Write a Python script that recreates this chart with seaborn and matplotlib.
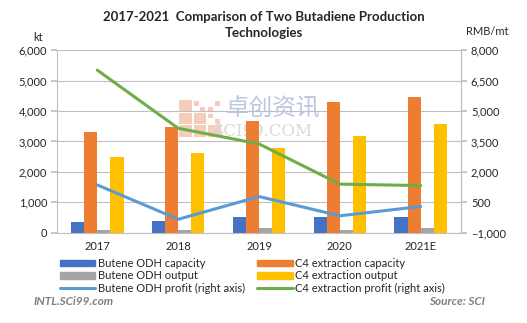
import matplotlib
matplotlib.use("Agg")
import matplotlib.pyplot as plt
import matplotlib.ticker as mticker
from matplotlib.lines import Line2D
from matplotlib.patches import Patch, Rectangle
import seaborn as sns
import pandas as pd

years = ["2017", "2018", "2019", "2020", "2021E"]
odh_capacity = [370, 375, 535, 535, 535]
odh_output = [100, 100, 175, 100, 175]
c4_capacity = [3320, 3490, 3680, 4305, 4470]
c4_output = [2500, 2630, 2800, 3180, 3585]
odh_profit = [1360, -330, 790, -160, 300]
c4_profit = [7010, 4150, 3380, 1400, 1330]

left_ticks = [0, 1000, 2000, 3000, 4000, 5000, 6000]
right_ticks = [-1000, 500, 2000, 3500, 5000, 6500, 8000]

bar_names = ["Butene ODH capacity", "C4 extraction capacity",
             "Butene ODH output", "C4 extraction output"]
bar_colors = ["#4472C4", "#ED7D31", "#A5A5A5", "#FFC000"]
line_names = ["Butene ODH profit (right axis)", "C4 extraction profit (right axis)"]
line_colors = ["#5B9BD5", "#70AD47"]

bars = pd.DataFrame({
    "year": years * 4,
    "series": sum([[n] * len(years) for n in bar_names], []),
    "value": odh_capacity + c4_capacity + odh_output + c4_output,
})
lines = pd.DataFrame({
    "year": years * 2,
    "series": sum([[n] * len(years) for n in line_names], []),
    "value": odh_profit + c4_profit,
})

sns.set_theme(style="white")
plt.rcParams["font.family"] = ["Lato", "Noto Sans CJK SC", "DejaVu Sans"]
grid_c = "#BFBFBF"
txt_c = "#262626"

fig = plt.figure(figsize=(5.27, 3.23), dpi=100)
ax = fig.add_axes([0.108, 0.279, 0.767, 0.566])

# faint brand mark behind the bars
sq_w, sq_h = 0.032, 0.062
for i in range(3):
    for j in range(3):
        x0 = 0.302 + j * (sq_w + 0.004)
        y0 = 0.665 - i * (sq_h + 0.007)
        if (i, j) in [(0, 1), (0, 2), (1, 2)]:
            for a in range(2):
                for b in range(2):
                    if (a + b + i + j) % 2 == 0:
                        ax.add_patch(Rectangle((x0 + a * sq_w / 2, y0 + b * sq_h / 2),
                                               sq_w / 2.4, sq_h / 2.4,
                                               transform=ax.transAxes, color="#F6CDBB",
                                               lw=0, zorder=0.5))
            continue
        ax.add_patch(Rectangle((x0, y0), sq_w, sq_h, transform=ax.transAxes,
                               color="#F6CDBB", lw=0, zorder=0.5))
ax.text(0.418, 0.68, "卓创资讯", transform=ax.transAxes, fontsize=17,
        color="#B9C8E0", family=["Noto Sans CJK SC"], va="center", zorder=0.5)
ax.text(0.385, 0.555, "SCI99.COM", transform=ax.transAxes, fontsize=12,
        color="#D9D9D9", family=["DejaVu Serif"], va="center", zorder=0.5)

sns.barplot(data=bars, x="year", y="value", hue="series", hue_order=bar_names,
            order=years, palette=bar_colors, width=0.65, gap=0.0, ax=ax,
            saturation=1, legend=False, zorder=2, linewidth=0)

ax.set_ylim(0, 6000)
ax.set_xlim(-0.5, 4.5)
ax.set_yticks(left_ticks)
ax.yaxis.set_major_formatter(mticker.StrMethodFormatter("{x:,.0f}"))
ax.grid(axis="y", color=grid_c, lw=0.8, zorder=0)
ax.set_axisbelow(True)
ax.set_xlabel("")
ax.set_ylabel("")
ax.spines["top"].set_visible(False)
for s in ["left", "right", "bottom"]:
    ax.spines[s].set_color(grid_c)
    ax.spines[s].set_linewidth(0.8)
ax.tick_params(axis="y", length=4, color=grid_c, labelsize=8, labelcolor=txt_c, pad=3)
ax.tick_params(axis="x", length=0, labelsize=8, labelcolor=txt_c, pad=6)

ax2 = ax.twinx()
sns.lineplot(data=lines, x="year", y="value", hue="series", hue_order=line_names,
             palette=line_colors, lw=2.2, ax=ax2, legend=False, sort=False)
ax2.set_ylim(-1000, 8000)
ax2.set_yticks(right_ticks)
ax2.yaxis.set_major_formatter(mticker.StrMethodFormatter("{x:,.0f}"))
ax2.set_ylabel("")
ax2.set_xlabel("")
for s in ["top", "left", "bottom"]:
    ax2.spines[s].set_visible(False)
ax2.spines["right"].set_color(grid_c)
ax2.spines["right"].set_linewidth(0.8)
ax2.tick_params(axis="y", length=4, color=grid_c, labelsize=8, labelcolor=txt_c, pad=3)
ax2.set_xlim(-0.5, 4.5)

fig.text(0.5, 0.922, "2017-2021  Comparison of Two Butadiene Production\nTechnologies",
         ha="center", va="center", fontsize=9.5, fontweight="bold", color=txt_c,
         linespacing=1.35)
fig.text(0.072, 0.866, "kt", ha="center", va="bottom", fontsize=8, color=txt_c)
fig.text(0.925, 0.885, "RMB/mt", ha="center", va="bottom", fontsize=8, color=txt_c)

handles = [Patch(color=bar_colors[0], label=bar_names[0]),
           Patch(color=bar_colors[2], label=bar_names[2]),
           Line2D([], [], color=line_colors[0], lw=2.2, label=line_names[0]),
           Patch(color=bar_colors[1], label=bar_names[1]),
           Patch(color=bar_colors[3], label=bar_names[3]),
           Line2D([], [], color=line_colors[1], lw=2.2, label=line_names[1])]
fig.legend(handles=handles, ncol=2, loc="upper left", bbox_to_anchor=(0.105, 0.215),
           frameon=False, fontsize=8, handlelength=3.2, handleheight=0.55,
           handletextpad=0.2, labelspacing=0.12, columnspacing=1.15, borderaxespad=0)

fig.text(0.063, 0.068, "INTL.SCi99.com", fontsize=8.5, fontweight="bold",
         style="italic", color="#808080", va="center", ha="left")
fig.text(0.92, 0.068, "Source: SCI", fontsize=8.5, fontweight="bold",
         style="italic", color="#808080", va="center", ha="right")

fig.savefig("out.png", dpi=100)
